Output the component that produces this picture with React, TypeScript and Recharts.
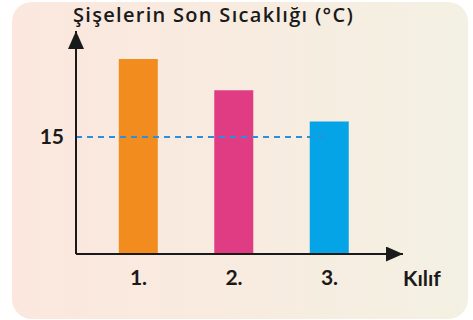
import React from 'react';
import { BarChart, Bar, XAxis, YAxis, ReferenceLine, Cell } from 'recharts';

const categories = ['1.', '2.', '3.'];
const temperatures = [25, 21, 17];
const barColors = ['#f28c1e', '#e03c84', '#05a4e7'];
const yTicks = [15];
const referenceValue = 15;
const title = 'Şişelerin Son Sıcaklığı (°C)';
const xAxisTitle = 'Kılıf';

const data = categories.map((c, i) => ({ pos: i + 1, name: c, value: temperatures[i] }));

const FONT = 'Lato, "Open Sans", sans-serif';
const TITLE_FONT = '"Open Sans", Lato, sans-serif';

export default function App() {
  return (
    <div style={{ position: 'absolute', left: 0, top: 0, width: 473, height: 320, background: '#ffffff' }}>
      <div
        style={{
          position: 'absolute',
          left: 12,
          top: 2,
          width: 456,
          height: 317,
          borderRadius: 20,
          background: 'linear-gradient(90deg, #fbe7dd 0%, #f8ebe0 50%, #f3f1e3 100%)',
        }}
      />
      <svg width={0} height={0} style={{ position: 'absolute' }}>
        <defs>
          <marker id="arrowY" viewBox="0 0 16 18" refX="8" refY="0" markerWidth="16" markerHeight="18" markerUnits="userSpaceOnUse" orient="0">
            <path d="M8 0 L16 18 L0 18 Z" fill="#1a1a1a" />
          </marker>
          <marker id="arrowX" viewBox="0 0 17 15" refX="17" refY="7.5" markerWidth="17" markerHeight="15" markerUnits="userSpaceOnUse" orient="0">
            <path d="M17 7.5 L0 0 L0 15 Z" fill="#1a1a1a" />
          </marker>
        </defs>
      </svg>
      <div
        style={{
          position: 'absolute',
          left: 73,
          top: 1,
          fontFamily: TITLE_FONT,
          fontWeight: 600,
          fontSize: 20,
          letterSpacing: 1.3,
          color: '#1a1a1a',
          whiteSpace: 'nowrap',
        }}
      >
        {title}
      </div>
      <div style={{ position: 'absolute', left: 0, top: 0 }}>
        <BarChart width={473} height={320} data={data} margin={{ top: 31, right: 70, bottom: 0, left: 0 }}>
          <XAxis
            dataKey="pos"
            type="number"
            domain={[0.345, 3.77]}
            ticks={[1, 2, 3]}
            tickFormatter={(v: number) => categories[v - 1]}
            allowDataOverflow
            height={66}
            axisLine={{ stroke: '#1a1a1a', strokeWidth: 2, markerEnd: 'url(#arrowX)' }}
            tickLine={false}
            tickMargin={10}
            tick={{ fill: '#1a1a1a', fontSize: 21, fontWeight: 700, fontFamily: FONT }}
            label={{
              value: xAxisTitle,
              position: 'right',
              offset: 0,
              dy: -8,
              fill: '#1a1a1a',
              fontSize: 21,
              fontWeight: 700,
              fontFamily: FONT,
            }}
          />
          <YAxis
            type="number"
            domain={[0, 28.6]}
            ticks={yTicks}
            width={76}
            allowDataOverflow
            axisLine={{ stroke: '#1a1a1a', strokeWidth: 2, markerStart: 'url(#arrowY)' }}
            tickLine={false}
            tickMargin={6}
            tick={{ fill: '#1a1a1a', fontSize: 21, fontWeight: 700, fontFamily: FONT }}
          />
          <ReferenceLine
            segment={[{ x: 0.345, y: referenceValue }, { x: 3, y: referenceValue }]}
            stroke="#2b8fdd"
            strokeWidth={2}
            strokeDasharray="6 5"
            ifOverflow="visible"
          />
          <Bar dataKey="value" barSize={39} isAnimationActive={false}>
            {data.map((d, i) => (
              <Cell key={d.name} fill={barColors[i]} />
            ))}
          </Bar>
        </BarChart>
      </div>
    </div>
  );
}
